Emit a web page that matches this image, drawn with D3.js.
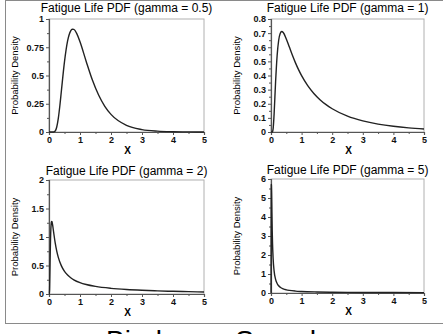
<!DOCTYPE html>
<html><head><meta charset="utf-8">
<script src="https://cdn.jsdelivr.net/npm/d3@7"></script>
<style>
html,body{margin:0;padding:0;background:#fff;}
svg{display:block;font-family:"Liberation Sans",Arial,sans-serif;}
</style></head>
<body>
<svg id="c" width="443" height="334"></svg>
<script>
// ---- data ----
const titles = ["Fatigue Life PDF (gamma = 0.5)", "Fatigue Life PDF (gamma = 1)",
                "Fatigue Life PDF (gamma = 2)", "Fatigue Life PDF (gamma = 5)"];
const xTicks = [0, 1, 2, 3, 4, 5];
const yMaxes = [1, 0.8, 2, 6];
const yTicks0 = [0, 0.25, 0.5, 0.75, 1];
const yTicks1 = [0, 0.1, 0.2, 0.3, 0.4, 0.5, 0.6, 0.7, 0.8];
const yTicks2 = [0, 0.5, 1, 1.5, 2];
const yTicks3 = [0, 1, 2, 3, 4, 5, 6];

const x0 = [0, 0.1, 0.15, 0.2, 0.25, 0.3, 0.35, 0.4, 0.5, 0.6, 0.7, 0.75, 0.8, 0.9, 1.0, 1.2, 1.4, 1.6, 1.8, 2.0, 2.5, 3.0, 3.5, 4.0, 4.5, 5.0];
const y0 = [0, 0, 0.0005, 0.0089, 0.0443, 0.1203, 0.2326, 0.3649, 0.6227, 0.8057, 0.8955, 0.9099, 0.9081, 0.8683, 0.7979, 0.6246, 0.4599, 0.3268, 0.2272, 0.1557, 0.0584, 0.0213, 0.0077, 0.0028, 0.0010, 0.0004];

const x1 = [0, 0.03, 0.04, 0.05, 0.07, 0.1, 0.15, 0.2, 0.25, 0.3, 0.35, 0.4, 0.5, 0.6, 0.7, 0.8, 0.9, 1.0, 1.2, 1.4, 1.6, 1.8, 2.0, 2.5, 3.0, 3.5, 4.0, 4.5, 5.0];
const y1 = [0, 0, 0.0003, 0.0023, 0.0239, 0.1209, 0.3552, 0.5403, 0.6476, 0.6974, 0.7112, 0.7039, 0.6591, 0.6010, 0.5430, 0.4894, 0.4414, 0.3989, 0.3283, 0.2730, 0.2290, 0.1936, 0.1648, 0.1126, 0.0788, 0.0561, 0.0405, 0.0295, 0.0216];

const x2 = [0, 0.01, 0.02, 0.03, 0.04, 0.05, 0.06, 0.07, 0.08, 0.09, 0.1, 0.12, 0.15, 0.2, 0.25, 0.3, 0.4, 0.5, 0.6, 0.7, 0.8, 1.0, 1.2, 1.5, 2.0, 2.5, 3.0, 3.5, 4.0, 4.5, 5.0];
const y2 = [0, 0.0005, 0.0890, 0.3921, 0.7278, 0.9811, 1.1415, 1.2297, 1.2685, 1.2747, 1.2605, 1.1994, 1.0812, 0.8969, 0.7528, 0.6433, 0.4932, 0.3975, 0.3321, 0.2849, 0.2493, 0.1995, 0.1662, 0.1329, 0.0994, 0.0789, 0.0650, 0.0548, 0.0471, 0.0409, 0.0359];

const x3 = [0, 0.002, 0.003, 0.004, 0.005, 0.006, 0.007, 0.008, 0.009, 0.01, 0.011, 0.012, 0.013, 0.015, 0.02, 0.03, 0.04, 0.05, 0.07, 0.1, 0.15, 0.2, 0.25, 0.3, 0.4, 0.5, 0.6, 0.8, 1.0, 1.5, 2.0, 2.5, 3.0, 4.0, 5.0];
const y3 = [0, 0.021, 0.323, 1.110, 2.162, 3.206, 4.100, 4.801, 5.316, 5.673, 5.705, 5.71, 5.70, 5.60, 5.3065, 4.2233, 3.2713, 2.6113, 1.8002, 1.1802, 0.7172, 0.5021, 0.3814, 0.3055, 0.2168, 0.1676, 0.1366, 0.1003, 0.0798, 0.0541, 0.0419, 0.0347, 0.0299, 0.0238, 0.0201];

const caption = "Birnbaum-Saunders";

// ---- layout ----
const svg = d3.select("#c");
svg.append("rect").attr("x", 5.5).attr("y", 0.5).attr("width", 600).attr("height", 323)
   .attr("fill", "none").attr("stroke", "#8a8a8a").attr("stroke-width", 1);

const panels = [
  {l: 49, t: 19, w: 155, h: 113, xs: x0, ys: y0, yt: yTicks0},
  {l: 271, t: 19, w: 153, h: 113, xs: x1, ys: y1, yt: yTicks1},
  {l: 49, t: 180, w: 155, h: 114, xs: x2, ys: y2, yt: yTicks2},
  {l: 271, t: 179, w: 153, h: 114, xs: x3, ys: y3, yt: yTicks3}
];

panels.forEach((p, i) => {
  const g = svg.append("g").attr("transform", `translate(${p.l},${p.t})`);
  const x = d3.scaleLinear().domain([0, 5]).range([0, p.w]);
  const y = d3.scaleLinear().domain([0, yMaxes[i]]).range([p.h, 0]);

  g.append("rect").attr("x", 0).attr("y", 0).attr("width", p.w).attr("height", p.h)
    .attr("fill", "none").attr("stroke", "#b0b0b0").attr("stroke-width", 1);

  const xMinor = d3.range(0.5, 5, 1);
  const step = p.yt[1] - p.yt[0];
  const yMinor = p.yt.slice(0, -1).map(v => v + step / 2);

  g.append("g").attr("transform", `translate(0,${p.h})`)
    .call(d3.axisBottom(x).tickValues(xTicks).tickFormat(d3.format("d")).tickSize(3).tickPadding(2));
  g.append("g").attr("transform", `translate(0,${p.h})`)
    .call(d3.axisBottom(x).tickValues(xMinor).tickFormat("").tickSize(2))
    .select(".domain").remove();
  g.append("g")
    .call(d3.axisLeft(y).tickValues(p.yt).tickFormat(d => String(+d.toFixed(2))).tickSize(3).tickPadding(2));
  g.append("g")
    .call(d3.axisLeft(y).tickValues(yMinor).tickFormat("").tickSize(2))
    .select(".domain").remove();

  g.selectAll(".domain").attr("stroke", "#555").attr("stroke-width", 1.2);
  g.selectAll(".tick line").attr("stroke", "#555");
  g.selectAll(".tick text").attr("font-size", 9).attr("font-weight", "bold")
    .attr("font-family", "'Liberation Sans',Arial,sans-serif").attr("fill", "#111");

  const pts = p.xs.map((v, k) => [v, p.ys[k]]);
  g.append("path").datum(pts)
    .attr("d", d3.line().x(d => x(d[0])).y(d => y(d[1])).curve(d3.curveMonotoneX))
    .attr("fill", "none").attr("stroke", "#222").attr("stroke-width", 1.4);

  g.append("text").attr("x", p.w / 2).attr("y", i < 2 ? -7 : -5)
    .attr("text-anchor", "middle").attr("font-size", 12).attr("fill", "#000").text(titles[i]);
  g.append("text").attr("x", p.w / 2 + 1).attr("y", p.h + 22)
    .attr("text-anchor", "middle").attr("font-size", 10).attr("font-weight", "bold").text("X");
  g.append("text").attr("transform", `translate(${-31},${p.h / 2}) rotate(-90)`)
    .attr("text-anchor", "middle").attr("font-size", 9.5).text("Probability Density");
});

svg.append("text").attr("x", 106).attr("y", 350).attr("font-size", 28)
  .attr("fill", "#000").text(caption);
</script>
</body></html>
